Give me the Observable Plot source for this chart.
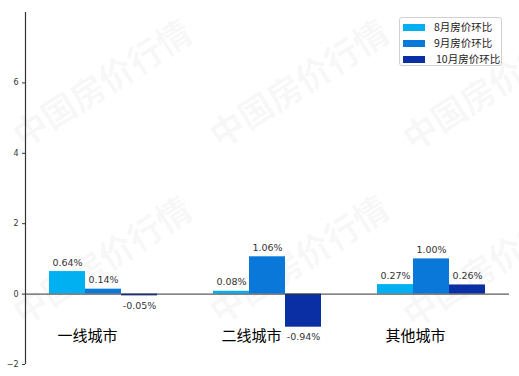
<!DOCTYPE html>
<html><head><meta charset="utf-8">
<script src="https://cdn.jsdelivr.net/npm/d3@7"></script>
<script src="https://cdn.jsdelivr.net/npm/@observablehq/plot@0.6"></script>
<style>
body{margin:0;background:#fff;font-family:"Noto Sans CJK SC","DejaVu Sans",sans-serif;}
#wrap{position:relative;width:519px;height:376px;overflow:hidden;}
.wm{position:absolute;font-size:34px;font-weight:bold;color:rgba(0,0,0,0.045);white-space:nowrap;transform:translate(-50%,-50%) rotate(-32.6deg);pointer-events:none;font-family:"Noto Sans CJK SC",sans-serif;}
#legend{position:absolute;left:399px;top:17px;width:103px;height:49px;border:1px solid #d0d0d0;border-radius:3px;background:rgba(255,255,255,0.85);box-sizing:border-box;}
.row{position:absolute;left:3px;height:16px;font-size:10.5px;color:#222;line-height:16px;}
.sw{position:absolute;left:0;top:5px;width:22px;height:7px;}
.lb{position:absolute;left:31px;top:0;white-space:nowrap;}
svg.layer{position:absolute;left:0;top:0;}
</style></head>
<body><div id="wrap"></div>
<script>
const cities = ["一线城市", "二线城市", "其他城市"];
const months = ["8月房价环比", "9月房价环比", "10月房价环比"];
const aug = [0.64, 0.08, 0.27];
const sep = [0.14, 1.06, 1.00];
const oct = [-0.05, -0.94, 0.26];
const colors = ["#00b0f0", "#0a78d8", "#0a2ea3"];
const yTicks = [-2, 0, 2, 4, 6];
const yDomain = [-2, 8];
const watermark = "中国房价行情";

const series = [aug, sep, oct];
const data = cities.flatMap((c, i) => months.map((m, j) => ({city: c, month: m, value: series[j][i]})));
const fmt = d => d.value.toFixed(2) + "%";
const frame = {width: 519, height: 376, marginTop: 12, marginBottom: 12, marginLeft: 25, marginRight: 10};

const chart = Plot.plot({
  ...frame,
  style: {fontFamily: "'DejaVu Sans', sans-serif", background: "transparent"},
  fx: {domain: cities, paddingInner: 0.33, paddingOuter: 0.14, axis: null},
  x: {domain: months, padding: 0, axis: null},
  y: {domain: yDomain, axis: null},
  color: {domain: months, range: colors},
  marks: [
    Plot.barY(data, {fx: "city", x: "month", y: "value", fill: "month"}),
    Plot.text(data.filter(d => d.value >= 0), {fx: "city", x: "month", y: "value", text: fmt, lineAnchor: "bottom", dy: -6, fontSize: 9.5, fill: "#333"}),
    Plot.text(data.filter(d => d.value < 0), {fx: "city", x: "month", y: "value", text: fmt, lineAnchor: "top", dy: 6, fontSize: 9.5, fill: "#333"}),
    Plot.text(cities, {fx: d => d, text: d => d, frameAnchor: "bottom", dy: -24, dx: -16, fontSize: 15, fill: "#000", fontFamily: "'Noto Sans CJK SC', sans-serif"})
  ]
});

const axes = Plot.plot({
  ...frame,
  style: {fontFamily: "'DejaVu Sans', sans-serif", background: "transparent"},
  x: {domain: [0, 1], axis: null},
  y: {domain: yDomain, axis: null},
  marks: [
    Plot.ruleY([0], {stroke: "#333", strokeWidth: 1}),
    Plot.ruleX([0], {y1: yDomain[0], y2: yDomain[1], stroke: "#333", strokeWidth: 1.2}),
    Plot.axisY({ticks: yTicks, tickSize: 3, tickPadding: 4, fontSize: 8, color: "#333", anchor: "left"})
  ]
});

const wrap = document.getElementById("wrap");
const centers = [[101, 82], [298, 82], [491, 85], [101, 259], [298, 258], [491, 262]];
centers.forEach(([cx, cy]) => {
  const w = document.createElement("div");
  w.className = "wm"; w.textContent = watermark;
  w.style.left = cx + "px"; w.style.top = cy + "px";
  wrap.appendChild(w);
});
chart.classList.add("layer"); axes.classList.add("layer");
wrap.appendChild(chart);
wrap.appendChild(axes);
const lg = document.createElement("div"); lg.id = "legend";
months.forEach((m, i) => {
  const r = document.createElement("div"); r.className = "row"; r.style.top = (1 + i * 16) + "px";
  const s = document.createElement("div"); s.className = "sw"; s.style.background = colors[i];
  const l = document.createElement("div"); l.className = "lb"; l.textContent = m;
  if (i === 2) l.style.left = "33px";
  r.appendChild(s); r.appendChild(l); lg.appendChild(r);
});
wrap.appendChild(lg);
</script></body></html>
